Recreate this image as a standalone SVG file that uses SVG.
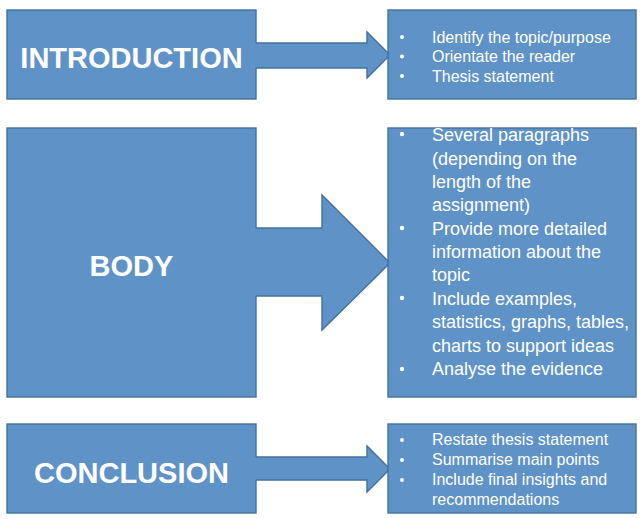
<svg xmlns="http://www.w3.org/2000/svg" width="640" height="519" viewBox="0 0 640 519">
<style>
.box{fill:#5f93c8;stroke:#42719e;stroke-width:1.4}
.afill{fill:#5f93c8;stroke:none}
.aline{fill:none;stroke:#42719e;stroke-width:1.4;stroke-linejoin:miter}
.title{font-family:"Liberation Sans",Arial,sans-serif;font-weight:bold;font-size:29px;fill:#ffffff;text-anchor:middle}
.t16{font-family:"Liberation Sans",Arial,sans-serif;font-size:16px;fill:#ffffff}
.t18{font-family:"Liberation Sans",Arial,sans-serif;font-size:18px;fill:#ffffff}
.dot{fill:#ffffff}
</style>
<rect width="640" height="519" fill="#ffffff"/>
<g id="introduction">
<rect class="box" x="7" y="10" width="249" height="89"/>
<text class="title" x="131.5" y="68">INTRODUCTION</text>
</g>
<g id="body">
<rect class="box" x="7" y="128" width="249" height="269"/>
<text class="title" x="131.5" y="276">BODY</text>
</g>
<g id="conclusion">
<rect class="box" x="7" y="424" width="249" height="89"/>
<text class="title" x="131.5" y="483">CONCLUSION</text>
</g>
<g id="connectors">
<polygon class="afill" points="255,43 367,43 367,32 390,55 367,78 367,68 255,68"/>
<path class="aline" d="M256,43 H367 V32 L390,55 L367,78 V68 H256"/>
<polygon class="afill" points="255,228 322,228 322,195 390,263 322,330 322,296 255,296"/>
<path class="aline" d="M256,228 H322 V195 L390,263 L322,330 V296 H256"/>
<polygon class="afill" points="255,457 367,457 367,446 390,469 367,492 367,480 255,480"/>
<path class="aline" d="M256,457 H367 V446 L390,469 L367,492 V480 H256"/>
</g>
<g id="intro-points">
<rect class="box" x="388" y="10" width="248" height="89"/>
<circle class="dot" cx="402" cy="37" r="2"/>
<circle class="dot" cx="402" cy="56.5" r="2"/>
<circle class="dot" cx="402" cy="76" r="2"/>
<text class="t16" x="432" y="42.5">Identify the topic/purpose</text>
<text class="t16" x="432" y="62">Orientate the reader</text>
<text class="t16" x="432" y="81.5">Thesis statement</text>
</g>
<g id="body-points">
<rect class="box" x="388" y="128" width="248" height="269"/>
<circle class="dot" cx="402" cy="134" r="2.2"/>
<circle class="dot" cx="402" cy="228" r="2.2"/>
<circle class="dot" cx="402" cy="298" r="2.2"/>
<circle class="dot" cx="402" cy="369" r="2.2"/>
<text class="t18" x="432" y="141">Several paragraphs</text>
<text class="t18" x="432" y="164.5">(depending on the</text>
<text class="t18" x="432" y="188">length of the</text>
<text class="t18" x="432" y="211">assignment)</text>
<text class="t18" x="432" y="234.5">Provide more detailed</text>
<text class="t18" x="432" y="258">information about the</text>
<text class="t18" x="432" y="281">topic</text>
<text class="t18" x="432" y="304.5">Include examples,</text>
<text class="t18" x="432" y="328">statistics, graphs, tables,</text>
<text class="t18" x="432" y="351.5">charts to support ideas</text>
<text class="t18" x="432" y="375">Analyse the evidence</text>
</g>
<g id="conclusion-points">
<rect class="box" x="388" y="424" width="248" height="89"/>
<circle class="dot" cx="402" cy="440" r="2"/>
<circle class="dot" cx="402" cy="460" r="2"/>
<circle class="dot" cx="402" cy="480" r="2"/>
<text class="t16" x="432" y="445">Restate thesis statement</text>
<text class="t16" x="432" y="465">Summarise main points</text>
<text class="t16" x="432" y="485">Include final insights and</text>
<text class="t16" x="432" y="505">recommendations</text>
</g>
</svg>
